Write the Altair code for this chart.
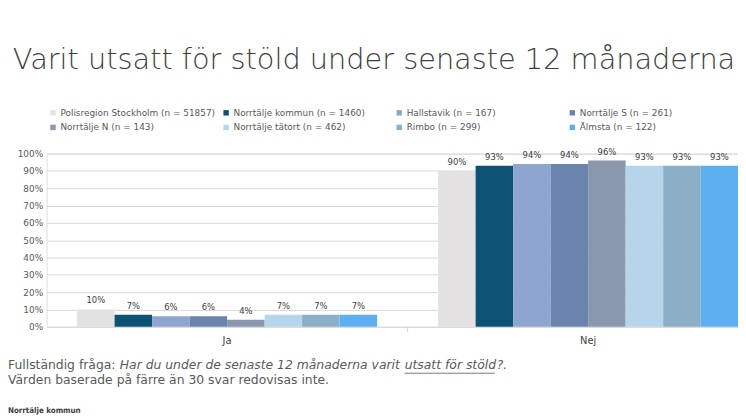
import altair as alt
import pandas as pd

groups = [
    "Polisregion Stockholm (n = 51857)",
    "Norrtälje kommun (n = 1460)",
    "Hallstavik (n = 167)",
    "Norrtälje  S (n = 261)",
    "Norrtälje N (n = 143)",
    "Norrtälje tätort (n = 462)",
    "Rimbo (n = 299)",
    "Älmsta (n = 122)",
]
answers = ["Ja", "Nej"]
ja_pct = [10, 7, 6, 6, 4, 7, 7, 7]
nej_pct = [90, 93, 94, 94, 96, 93, 93, 93]
colors = ["#e3e1e1", "#0b5274", "#8ea6cf", "#6a84ae", "#8998ad", "#b7d5ea", "#8bafc7", "#5db0f0"]
y_ticks = [0, 0.1, 0.2, 0.3, 0.4, 0.5, 0.6, 0.7, 0.8, 0.9, 1.0]

title_text = "Varit utsatt för stöld under senaste 12 månaderna"
note_prefix = "Fullständig fråga:"
note_italic = "Har du under de senaste 12 månaderna varit"
note_under = "utsatt för stöld"
note_end = "?."
note2 = "Värden baserade på färre än 30 svar redovisas inte."
footer = "Norrtälje kommun"

rows = []
for a, vals in zip(answers, [ja_pct, nej_pct]):
    for g, v in zip(groups, vals):
        rows.append({"svar": a, "grupp": g, "andel": v / 100})
df = pd.DataFrame(rows)

FONT = "DejaVu Sans"

x_scale = alt.Scale(range=[0, 730], paddingInner=0, paddingOuter=0)
x_enc = alt.X(
    "svar:N", sort=answers, scale=x_scale,
    axis=alt.Axis(title=None, labelAngle=0, domain=False, ticks=False,
                  labelFontSize=10, labelColor="#404040", labelPadding=9,
                  labelFont=FONT),
)
xo_enc = alt.XOffset("grupp:N", sort=groups,
                     scale=alt.Scale(paddingInner=0, paddingOuter=0.813))
y_enc = alt.Y(
    "andel:Q", scale=alt.Scale(domain=[0, 1]),
    axis=alt.Axis(title=None, values=y_ticks, format=".0%", domain=False,
                  ticks=False, labelFontSize=9, labelColor="#595959",
                  labelPadding=4, gridColor="#d9d9d9", labelFont=FONT),
)

base = alt.Chart(df)
bars = base.mark_bar().encode(
    x=x_enc, xOffset=xo_enc, y=y_enc,
    color=alt.Color(
        "grupp:N", sort=groups,
        scale=alt.Scale(domain=groups, range=colors),
        legend=alt.Legend(title=None, orient="none", legendX=2, legendY=-46,
                          direction="horizontal",
                          columns=4, symbolType="square", symbolSize=30,
                          symbolStrokeWidth=0, labelFontSize=9,
                          labelColor="#595959", labelFont=FONT,
                          columnPadding=6, rowPadding=5, gridAlign="all",
                          labelLimit=400, labelOffset=3),
    ),
)
labels = base.mark_text(baseline="middle", dy=-9, fontSize=8.5, color="#404040",
                        font=FONT).encode(
    x=x_enc, xOffset=xo_enc, y=y_enc,
    text=alt.Text("andel:Q", format=".0%"),
)

# small category separator tick below the baseline (at the start of the "Nej" band)
sep_tick = alt.Chart(pd.DataFrame({"svar": [answers[1]]})).mark_rule(
    color="#d0d0d0", strokeWidth=1).encode(
    x=alt.X("svar:N", sort=answers, scale=x_scale, bandPosition=0),
    y=alt.value(175), y2=alt.value(180),
)


def note(text, x, y, size=12.5, style="normal", weight="normal", color="#595959",
         align="left", font=FONT):
    return alt.Chart(pd.DataFrame({"t": [text]})).mark_text(
        align=align, baseline="middle", fontSize=size, fontStyle=style,
        fontWeight=weight, color=color, font=font,
    ).encode(x=alt.value(x), y=alt.value(y), text="t:N")


title = note(title_text, 331, -95, size=29.1, color="#404040", align="center",
             weight=300)
n1 = note(note_prefix, -39, 214)
n2 = note(note_italic, 74, 214, style="italic")
n3 = note(note_under, 362, 214, style="italic")
n4 = note(note_end, 455, 214, style="italic")
underline = alt.Chart(pd.DataFrame({"u": [1]})).mark_rule(
    color="#595959", strokeWidth=0.8).encode(
    x=alt.value(362), x2=alt.value(453), y=alt.value(222))
n5 = note(note2, -39, 229)
n6 = note(footer, -39, 260, size=8, weight="bold", color="#404040",
          font="DejaVu Sans Condensed")

chart = alt.layer(bars, labels, sep_tick, title, n1, n2, n3, n4, underline, n5, n6).properties(
    width=699, height=175,
    autosize=alt.AutoSizeParams(type="none"),
    padding={"left": 39, "top": 145, "right": 0, "bottom": 88},
).configure_view(stroke=None).configure(font=FONT)

chart.save("out.html", embed_options={"renderer": "svg", "actions": False})
